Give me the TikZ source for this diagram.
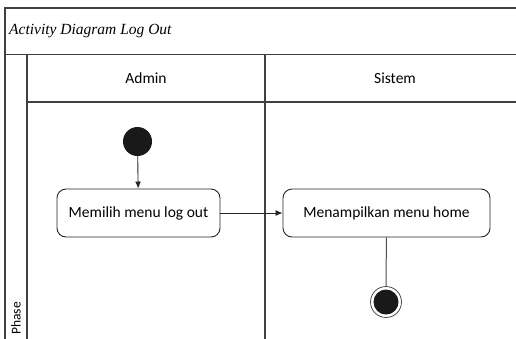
\documentclass[tikz,border=0pt]{standalone}
\usepackage{fontspec}
\setmainfont{Carlito}
\newfontfamily\titlefont{Liberation Serif}
\usetikzlibrary{arrows.meta,positioning}

\begin{document}
\begin{tikzpicture}[x=1pt, y=-1pt,
    font=\fontsize{15.5}{18}\selectfont,
    lane/.style={draw=black!75, line width=1.2pt},
    act/.style={draw=black!85, rounded corners=9pt, line width=0.9pt,
                minimum height=48pt, inner sep=0pt},
    flow/.style={draw=black!85, line width=0.9pt,
                 -{Latex[length=7pt,width=6pt]}},
    link/.style={draw=black!70, line width=1pt}]

  \useasboundingbox (0,0) rectangle (516,338);

  % swimlane frame, runs past the page on the right and bottom
  \begin{scope}
    \clip (0,0) rectangle (516,338);
    \draw[lane] (5,360) |- (530,8);
    \draw[lane] (5,54.5) -- (530,54.5);
    \draw[lane] (27,102) -- (530,102);
    \draw[lane] (27,54.5) -- (27,360);
    \draw[lane] (265,54.5) -- (265,360);
  \end{scope}

  \node[anchor=west, inner sep=0pt,
        font={\fontsize{15.5}{18}\selectfont\titlefont\itshape}] (title)
    at (9,31) {Activity Diagram Log Out};
  \node (admin) at (146,78) {Admin};
  \node (sistem) at (395,78) {Sistem};
  \node[rotate=90, anchor=west, inner sep=0pt,
        font=\fontsize{13.5}{15}\selectfont] (phase) at (16,335) {Phase};

  \node[circle, fill=black!90, minimum size=29pt, inner sep=0pt] (start)
    at (137.5,141.5) {};
  \node[act, minimum width=163pt] (pilih) at (138.5,213) {Memilih menu log out};
  \node[act, minimum width=207pt] (home) at (386.5,213) {Menampilkan menu home};
  \node[circle, draw=black!70, fill=white, line width=0.8pt,
        minimum size=31pt, inner sep=0pt] (stop) at (386,302) {};
  \node[circle, fill=black!90, minimum size=25pt, inner sep=0pt] (stopdot)
    at (stop) {};

  \draw[flow] (start) -- (pilih);
  \draw[flow] (pilih) -- (home);
  \draw[link] (home) -- (stop);
\end{tikzpicture}
\end{document}
